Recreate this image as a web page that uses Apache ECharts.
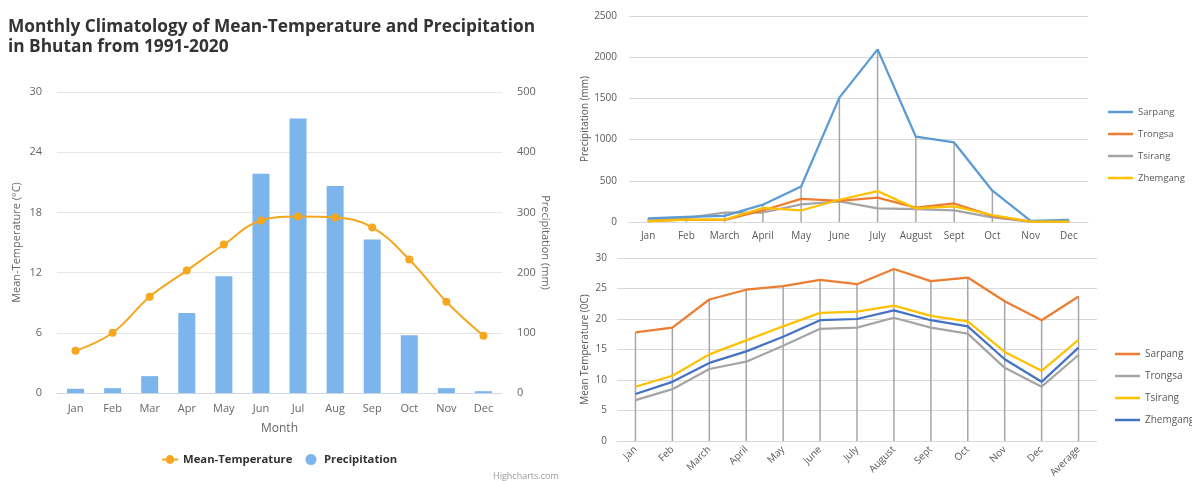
<!DOCTYPE html>
<html>
<head>
<meta charset="utf-8">
<script src="https://cdn.jsdelivr.net/npm/echarts@6/dist/echarts.min.js"></script>
<style>html,body{margin:0;padding:0;background:#fff;}#c{width:1192px;height:481px;}</style>
</head>
<body>
<div id="c"></div>
<script>
// ---- Left chart (Bhutan climatology) ----
const months = ['Jan','Feb','Mar','Apr','May','Jun','Jul','Aug','Sep','Oct','Nov','Dec'];
const meanTemp = [4.2, 6.0, 9.6, 12.2, 14.8, 17.2, 17.6, 17.5, 16.5, 13.3, 9.1, 5.7];
const precip = [7, 8, 28, 133, 194, 364, 456, 344, 255, 96, 8, 3];

// ---- Top-right chart (precipitation by station) ----
const monthsP = ['Jan','Feb','March','April','May','June','July','August','Sept','Oct','Nov','Dec'];
const sarpangP = [45, 62, 75, 210, 430, 1510, 2095, 1035, 965, 380, 15, 25];
const trongsaP = [10, 30, 25, 140, 280, 255, 295, 175, 225, 75, 5, 10];
const tsirangP = [20, 50, 113, 115, 215, 250, 165, 155, 140, 57, 5, 10];
const zhemgangP = [10, 30, 30, 170, 140, 270, 375, 165, 190, 85, 5, 5];

// ---- Bottom-right chart (mean temperature by station) ----
const monthsT = ['Jan','Feb','March','April','May','June','July','August','Sept','Oct','Nov','Dec','Average'];
const sarpangT = [17.8, 18.6, 23.2, 24.8, 25.4, 26.4, 25.7, 28.2, 26.2, 26.8, 22.9, 19.8, 23.7];
const trongsaT = [6.7, 8.5, 11.8, 13.0, 15.6, 18.4, 18.6, 20.2, 18.6, 17.6, 12.0, 8.9, 14.1];
const tsirangT = [8.9, 10.7, 14.2, 16.5, 18.8, 21.0, 21.2, 22.2, 20.5, 19.6, 14.6, 11.5, 16.6];
const zhemgangT = [7.7, 9.7, 12.8, 14.7, 17.1, 19.8, 20.0, 21.4, 19.8, 18.8, 13.4, 9.7, 15.3];

const maxOf = (arrs) => arrs[0].map((_, i) => Math.max(...arrs.map(a => a[i])));

const HC = 'Open Sans';
const XL = 'Open Sans';
const gridCol = '#d9d9d9';
const labCol = '#595959';

const chart = echarts.init(document.getElementById('c'), null, {renderer: 'canvas'});

const stripPrefix = n => n.replace(/^[PT]-/, '');

chart.setOption({
  animation: false,
  backgroundColor: '#fff',
  title: {
    text: 'Monthly Climatology of Mean-Temperature and Precipitation\nin Bhutan from 1991-2020',
    left: 8, top: 17, padding: 0,
    textStyle: {fontFamily: HC, fontSize: 17.3, fontWeight: 'bold', color: '#333333', lineHeight: 20}
  },
  graphic: [{
    type: 'text', left: 493, top: 472,
    style: {text: 'Highcharts.com', fontFamily: HC, fontSize: 9, fill: '#999999'}
  }],
  legend: [
    {
      data: [{name: 'Mean-Temperature'}, {name: 'Precipitation', icon: 'circle', itemStyle: {color: '#7cb5ec'}}],
      left: 161, top: 454, padding: 0,
      itemWidth: 16, itemHeight: 11, itemGap: 13,
      textStyle: {fontFamily: HC, fontSize: 11.3, fontWeight: 'bold', color: '#333333'}
    },
    {
      data: ['P-Sarpang', 'P-Trongsa', 'P-Tsirang', 'P-Zhemgang'],
      orient: 'vertical', left: 1103, top: 100,
      icon: 'rect', itemWidth: 25, itemHeight: 2.5, itemGap: 8,
      formatter: stripPrefix,
      textStyle: {fontFamily: XL, fontSize: 9.5, color: labCol, lineHeight: 14}
    },
    {
      data: ['T-Sarpang', 'T-Trongsa', 'T-Tsirang', 'T-Zhemgang'],
      orient: 'vertical', left: 1110, top: 342,
      icon: 'rect', itemWidth: 25, itemHeight: 2.5, itemGap: 8,
      formatter: stripPrefix,
      textStyle: {fontFamily: XL, fontSize: 10, color: labCol, lineHeight: 14}
    }
  ],
  grid: [
    {left: 57, right: 690, top: 92, bottom: 88},
    {left: 629, right: 104, top: 16, bottom: 259},
    {left: 617, right: 95, top: 258, bottom: 40}
  ],
  xAxis: [
    {
      type: 'category', gridIndex: 0, data: months,
      name: 'Month', nameLocation: 'middle', nameGap: 30,
      nameTextStyle: {fontFamily: HC, fontSize: 12, color: '#666666'},
      axisLine: {lineStyle: {color: '#ccd6eb'}}, axisTick: {show: false},
      axisLabel: {fontFamily: HC, fontSize: 11, color: '#666666', margin: 10}
    },
    {
      type: 'category', gridIndex: 1, data: monthsP,
      axisLine: {lineStyle: {color: gridCol}}, axisTick: {show: false},
      axisLabel: {fontFamily: XL, fontSize: 10, color: labCol, margin: 9, interval: 0}
    },
    {
      type: 'category', gridIndex: 2, data: monthsT,
      axisLine: {lineStyle: {color: gridCol}}, axisTick: {show: false},
      axisLabel: {fontFamily: XL, fontSize: 10, color: labCol, margin: 7, rotate: 45, interval: 0}
    }
  ],
  yAxis: [
    {
      type: 'value', gridIndex: 0, min: 0, max: 30, interval: 6,
      name: 'Mean-Temperature (°C)', nameLocation: 'middle', nameGap: 35,
      nameTextStyle: {fontFamily: HC, fontSize: 11, color: '#666666'},
      axisLabel: {fontFamily: HC, fontSize: 11, color: '#666666', margin: 15},
      splitLine: {lineStyle: {color: '#e6e6e6'}}, axisLine: {show: false}, axisTick: {show: false}
    },
    {
      type: 'value', gridIndex: 0, position: 'right', min: 0, max: 500, interval: 100,
      name: 'Precipitation (mm)', nameLocation: 'middle', nameGap: 38, nameRotate: -90,
      nameTextStyle: {fontFamily: HC, fontSize: 11, color: '#666666'},
      axisLabel: {fontFamily: HC, fontSize: 11, color: '#666666', margin: 15},
      splitLine: {show: false}, axisLine: {show: false}, axisTick: {show: false}
    },
    {
      type: 'value', gridIndex: 1, min: 0, max: 2500, interval: 500,
      name: 'Precipitation (mm)', nameLocation: 'middle', nameGap: 38,
      nameTextStyle: {fontFamily: XL, fontSize: 10, color: labCol},
      axisLabel: {fontFamily: XL, fontSize: 10, color: labCol, margin: 12, formatter: v => String(v)},
      splitLine: {lineStyle: {color: gridCol}}, axisLine: {show: false}, axisTick: {show: false}
    },
    {
      type: 'value', gridIndex: 2, min: 0, max: 30, interval: 5,
      name: 'Mean Temperature (0C)', nameLocation: 'middle', nameGap: 27,
      nameTextStyle: {fontFamily: XL, fontSize: 10, color: labCol},
      axisLabel: {fontFamily: XL, fontSize: 10, color: labCol, margin: 10},
      splitLine: {lineStyle: {color: gridCol}}, axisLine: {show: false}, axisTick: {show: false}
    }
  ],
  series: [
    // left chart
    {
      name: 'Precipitation', type: 'bar', xAxisIndex: 0, yAxisIndex: 1, data: precip,
      barWidth: 17, itemStyle: {color: '#7cb5ec'}
    },
    {
      name: 'Mean-Temperature', type: 'line', xAxisIndex: 0, yAxisIndex: 0, data: meanTemp,
      smooth: 0.4, symbol: 'circle', symbolSize: 8,
      lineStyle: {color: '#f4a71f', width: 2}, itemStyle: {color: '#f4a71f'}
    },
    // top-right drop lines + lines
    {
      name: 'dropP', type: 'bar', xAxisIndex: 1, yAxisIndex: 2, data: maxOf([sarpangP, trongsaP, tsirangP, zhemgangP]),
      barWidth: 1.5, itemStyle: {color: '#a6a6a6'}, z: 1, silent: true
    },
    {name: 'P-Sarpang', type: 'line', xAxisIndex: 1, yAxisIndex: 2, data: sarpangP, symbol: 'none', lineStyle: {color: '#5b9bd5', width: 2.25}, itemStyle: {color: '#5b9bd5'}, z: 5},
    {name: 'P-Trongsa', type: 'line', xAxisIndex: 1, yAxisIndex: 2, data: trongsaP, symbol: 'none', lineStyle: {color: '#ed7d31', width: 2.25}, itemStyle: {color: '#ed7d31'}, z: 4},
    {name: 'P-Tsirang', type: 'line', xAxisIndex: 1, yAxisIndex: 2, data: tsirangP, symbol: 'none', lineStyle: {color: '#a5a5a5', width: 2.25}, itemStyle: {color: '#a5a5a5'}, z: 3},
    {name: 'P-Zhemgang', type: 'line', xAxisIndex: 1, yAxisIndex: 2, data: zhemgangP, symbol: 'none', lineStyle: {color: '#ffc000', width: 2.25}, itemStyle: {color: '#ffc000'}, z: 6},
    // bottom-right drop lines + lines
    {
      name: 'dropT', type: 'bar', xAxisIndex: 2, yAxisIndex: 3, data: maxOf([sarpangT, trongsaT, tsirangT, zhemgangT]),
      barWidth: 1.5, itemStyle: {color: '#a6a6a6'}, z: 1, silent: true
    },
    {name: 'T-Sarpang', type: 'line', xAxisIndex: 2, yAxisIndex: 3, data: sarpangT, symbol: 'none', lineStyle: {color: '#ed7d31', width: 2.25}, itemStyle: {color: '#ed7d31'}, z: 3},
    {name: 'T-Trongsa', type: 'line', xAxisIndex: 2, yAxisIndex: 3, data: trongsaT, symbol: 'none', lineStyle: {color: '#a5a5a5', width: 2.25}, itemStyle: {color: '#a5a5a5'}, z: 3},
    {name: 'T-Tsirang', type: 'line', xAxisIndex: 2, yAxisIndex: 3, data: tsirangT, symbol: 'none', lineStyle: {color: '#ffc000', width: 2.25}, itemStyle: {color: '#ffc000'}, z: 3},
    {name: 'T-Zhemgang', type: 'line', xAxisIndex: 2, yAxisIndex: 3, data: zhemgangT, symbol: 'none', lineStyle: {color: '#4472c4', width: 2.25}, itemStyle: {color: '#4472c4'}, z: 3}
  ]
});
</script>
</body>
</html>
